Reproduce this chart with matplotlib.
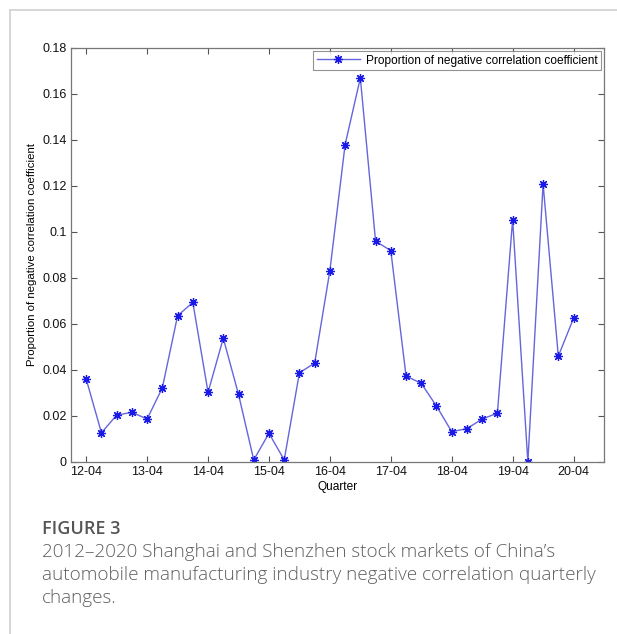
import numpy as np
import matplotlib.pyplot as plt
from matplotlib.lines import Line2D

# DATA
# quarterly proportion of negative correlation coefficients, 2012-04 .. 2020-04
proportion = [0.036, 0.0127, 0.0204, 0.0216, 0.0187, 0.0323, 0.0636, 0.0694,
              0.0303, 0.0538, 0.0294, 0.0009, 0.0125, 0.0009, 0.0388, 0.043,
              0.0832, 0.138, 0.167, 0.096, 0.0919, 0.0374, 0.0342, 0.0243,
              0.0132, 0.0145, 0.0187, 0.0212, 0.1054, 0.0, 0.1209, 0.046, 0.0625]
tick_labels = ["12-04", "13-04", "14-04", "15-04", "16-04",
               "17-04", "18-04", "19-04", "20-04"]
y_ticks = [0, 0.02, 0.04, 0.06, 0.08, 0.1, 0.12, 0.14, 0.16, 0.18]
y_tick_labels = ["0", "0.02", "0.04", "0.06", "0.08", "0.1",
                 "0.12", "0.14", "0.16", "0.18"]

LINE_COLOR = "#6565dc"
MARK_COLOR = "#1a1ae6"
CAP_COLOR = "#5f5f5f"

plt.rcParams["font.family"] = ["Liberation Sans", "DejaVu Sans"]

fig = plt.figure(figsize=(6.17, 6.34), dpi=100)

# page frame lines (top and left)
fig.add_artist(Line2D([10 / 617, 1.0], [1 - 10 / 634, 1 - 10 / 634],
                      color="#d0d0d0", linewidth=1.2))
fig.add_artist(Line2D([10 / 617, 10 / 617], [0.0, 1 - 10 / 634],
                      color="#d0d0d0", linewidth=1.2))

ax = fig.add_axes([71 / 617, 1 - 462 / 634, 533 / 617, 414 / 634])

x = np.arange(len(proportion))
ax.plot(x, proportion, color=LINE_COLOR, linewidth=1.0, marker=(8, 2, 0),
        markersize=6.5, markeredgecolor=MARK_COLOR, markeredgewidth=0.9,
        label="Proportion of negative correlation coefficient")

ax.set_xlim(-1, 34)
ax.set_ylim(0, 0.18)
ax.set_xticks(np.arange(0, len(proportion), 4))
ax.set_xticklabels(tick_labels)
ax.set_yticks(y_ticks)
ax.set_yticklabels(y_tick_labels)
ax.tick_params(direction="in", length=4, width=0.8, top=True, right=True,
               labelsize=9, colors="#555555", labelcolor="#111111", pad=3)
for s in ax.spines.values():
    s.set_color("#777777")
    s.set_linewidth(0.9)

ax.set_xlabel("Quarter", fontsize=8.6, labelpad=2)
ax.set_ylabel("Proportion of negative correlation coefficient", fontsize=8.2,
              labelpad=4)

leg = ax.legend(loc="upper right", fontsize=8.6, frameon=True, fancybox=False,
                borderpad=0.3, handlelength=3.6, handletextpad=0.5,
                borderaxespad=0.25)
leg.get_frame().set_edgecolor("#777777")
leg.get_frame().set_linewidth(0.8)

# caption
cap_font = ["Open Sans", "DejaVu Sans"]
fig.text(42 / 617, 1 - 529 / 634, "FIGURE 3", fontsize=13, color="#555555",
         family=cap_font, va="center", fontweight="semibold")
caption = ("2012\u20132020 Shanghai and Shenzhen stock markets of China\u2019s\n"
           "automobile manufacturing industry negative correlation quarterly\n"
           "changes.")
fig.text(42 / 617, 1 - 543 / 634, caption, fontsize=13.6, color=CAP_COLOR,
         family=cap_font, va="top", linespacing=1.37, fontweight="light")

fig.savefig("out.png", dpi=100)
